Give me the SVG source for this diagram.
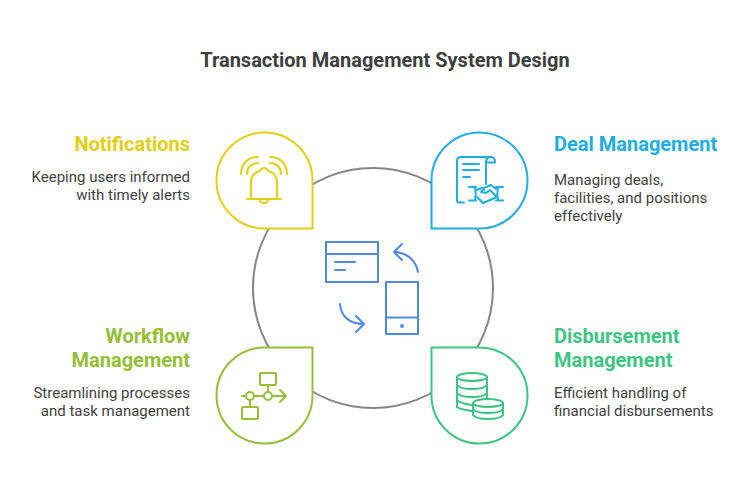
<svg xmlns="http://www.w3.org/2000/svg" width="744" height="497" viewBox="0 0 744 497">
<style>
text{font-family:Roboto,"Liberation Sans",sans-serif}
.t{font-size:20px;font-weight:700;fill:#3f3f3f}
.h{font-size:20px;font-weight:700}
.b{font-size:15px;fill:#3f3f3f}
.e{text-anchor:end}
.n{fill:#fff;stroke-width:2}
.i{fill:none;stroke-width:2;stroke-linecap:round;stroke-linejoin:round}
.y{stroke:#e2cf12}.c{stroke:#20aee0}.g{stroke:#95bf37}.m{stroke:#3cc583}.u{stroke:#4e88e7}
</style>
<rect width="744" height="497" fill="#fff"/>
<text class="t" x="385" y="67" text-anchor="middle">Transaction Management System Design</text>
<g id="connectors"><circle cx="373" cy="288" r="120" fill="none" stroke="#868686" stroke-width="2"/></g>
<g id="center" class="i u">
<rect x="326" y="242" width="52" height="40"/><path d="M326 254H378M335 262H355M335 270H345"/>
<rect x="386" y="282" width="32" height="52"/><path d="M386 317.500H418"/><circle cx="402" cy="326" r="1" fill="#4e88e7"/>
<path d="M418 272C416 261 408 253 395 252M402 244L394 252L402 260"/>
<path d="M340 304C341 317 350 324 364 324M356 316L364 324L356 332"/>
</g>
<g id="notifications">
<path class="n y" d="M312.500 228.500H264.500A48 48 0 1 1 312.500 180.500Z"/>
<g class="i y">
<path d="M247 199H281M251 199V182C251 176 255 172 259.500 171C261 169 262 168 264 168C266 168 267 169 268.500 171C273 172 277 176 277 182V199"/>
<path d="M259.500 199.500A4.500 3.500 0 0 0 268.500 199.500"/>
<path d="M241 174C241 164 248 157 258 157M247 174C247 168 251 163 258 163M287 174C287 164 280 157 270 157M281 174C281 168 277 163 270 163"/>
</g>
<text class="h e" style="fill:#e2cf12" x="190" y="151">Notifications</text>
<text class="b e" x="190" y="182">Keeping users informed</text>
<text class="b e" x="190" y="200">with timely alerts</text>
</g>
<g id="deal">
<path class="n c" d="M431.500 228.500V180.500A48 48 0 1 1 479.500 228.500Z"/>
<g class="i c">
<path d="M464 202.500H459Q457 202.500 457 200V161Q457 157 461 157H491Q495 157 495 162.500H486M486 184V162C486 159 487 158 489 157"/>
<path d="M463 164H479M463 170H479M463 177H470"/>
<path d="M469 187H476M469 200.500H476M475 187C476 192 476 196 475 200.500M503 187H496M503 200.500H496M498 187C497 192 497 196 498 200.500"/>
<path d="M476 190L482 188L484 190M477 197L483 203L496 197.500M496 189L491 185L484 188L481 192L486 193L490 190L496 196"/>
</g>
<text class="h" style="fill:#20aee0" x="554" y="151">Deal Management</text>
<text class="b" x="554" y="185">Managing deals,</text>
<text class="b" x="554" y="203">facilities, and positions</text>
<text class="b" x="554" y="221">effectively</text>
</g>
<g id="workflow">
<path class="n g" d="M312.500 347.500H264.500A48 48 0 1 0 312.500 395.500Z"/>
<g class="i g">
<rect x="260" y="373" width="16" height="12" rx="1"/>
<rect x="242" y="407" width="16" height="12" rx="1"/>
<circle cx="250" cy="396" r="4"/><circle cx="268" cy="396" r="4"/>
<path d="M242 396H246M254 396H264M272 396H286M280 390L286 396L280 402M268 385V392M250 400V407"/>
</g>
<text class="h e" style="fill:#95bf37" x="190" y="343">Workflow</text>
<text class="h e" style="fill:#95bf37" x="190" y="367">Management</text>
<text class="b e" x="190" y="398">Streamlining processes</text>
<text class="b e" x="190" y="416">and task management</text>
</g>
<g id="disbursement">
<path class="n m" d="M431.500 347.500H479.500A48 48 0 1 1 431.500 395.500Z"/>
<g class="i m">
<ellipse cx="472" cy="377" rx="15" ry="4"/>
<path d="M457 377V407C459 409 465 410 472 411M487 377V398M457 385C459 388 466 389 472 389C478 389 485 388 487 385M457 393C459 396 466 397 472 397C478 397 485 396 487 393M457 400C459 403 465 404 472 405"/>
<ellipse cx="488" cy="403" rx="15" ry="4"/>
<path d="M473 403V415C475 418 482 419 488 419C494 419 501 418 503 415V403M473 409C475 412 482 413 488 413C494 413 501 412 503 409"/>
</g>
<text class="h" style="fill:#3cc583" x="554" y="343">Disbursement</text>
<text class="h" style="fill:#3cc583" x="554" y="367">Management</text>
<text class="b" x="554" y="398">Efficient handling of</text>
<text class="b" x="554" y="416">financial disbursements</text>
</g>
</svg>
